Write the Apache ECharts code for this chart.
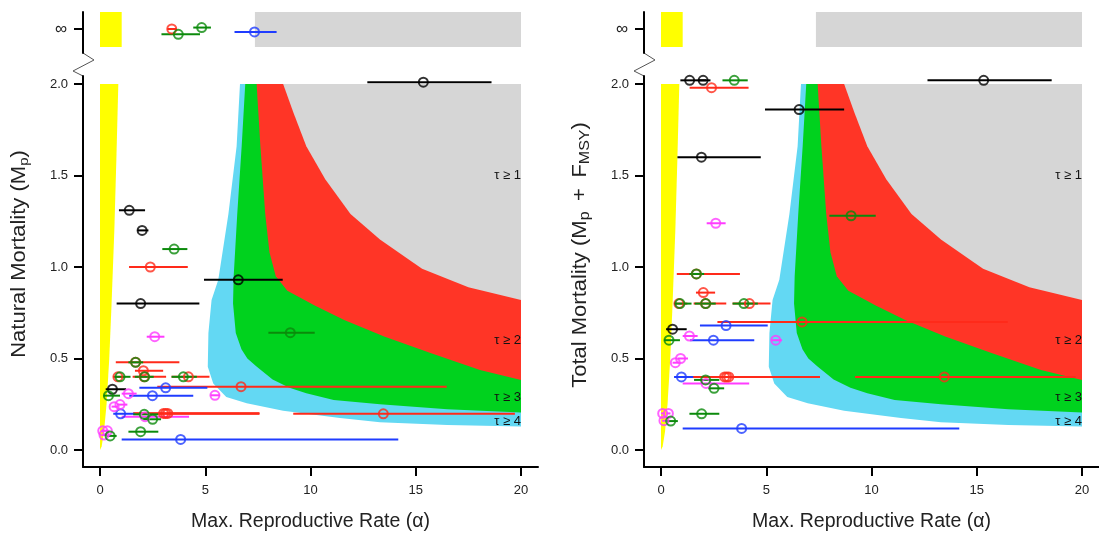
<!DOCTYPE html>
<html><head><meta charset="utf-8">
<script src="https://cdn.jsdelivr.net/npm/echarts@6/dist/echarts.min.js"></script>
<style>html,body{margin:0;padding:0;background:#fff}#c{width:1099px;height:533px}</style>
</head><body><div id="c"></div>
<script>
// ---------- tick labels ----------
const xTicks = [0, 5, 10, 15, 20];
const yTicks = [0, 0.5, 1, 1.5, 2];
const infLabel = '\u221e';
const tauLabels = ['\u03c4 \u2265 1', '\u03c4 \u2265 2', '\u03c4 \u2265 3', '\u03c4 \u2265 4'];
const tauM = [1.5, 0.6, 0.29, 0.155];

// ---------- shaded regions (alpha, M) boundary curves ----------
const regionCyan = [[6.65,2.0],[6.49,1.66],[6.1,1.29],[5.62,0.93],[5.3,0.82],[5.15,0.64],[5.12,0.455],[5.38,0.364],[6.0,0.29],[6.97,0.255],[8.7,0.215],[11.4,0.175],[13.3,0.152],[16.5,0.137],[20,0.128]];
const regionGreen = [[6.9,2.0],[6.73,1.66],[6.52,1.29],[6.35,0.95],[6.32,0.80],[6.45,0.64],[6.72,0.55],[7.0,0.50],[7.45,0.455],[8.2,0.385],[9.0,0.34],[9.8,0.31],[11.1,0.273],[13.3,0.25],[16.5,0.222],[20,0.205]];
const regionRed = [[7.44,2.0],[7.62,1.66],[7.85,1.29],[8.05,1.08],[8.35,0.95],[8.9,0.87],[10.2,0.79],[11.6,0.71],[13.5,0.62],[15.7,0.53],[18.05,0.437],[20,0.383]];
const regionGray = [[8.7,2.0],[9.2,1.84],[9.8,1.66],[10.7,1.48],[11.9,1.29],[13.3,1.15],[15.3,0.99],[17.5,0.89],[20,0.82]];
const regionYellow = [[0,2.0],[0.87,2.0],[0.78,1.6],[0.68,1.2],[0.55,0.8],[0.44,0.5],[0.31,0.25],[0.19,0.1],[0.08,0.02],[0,0]];
const infYellow = [0, 1.03];
const infGray = [7.36, 20];

// ---------- data: [alpha, M, lower, upper] ----------
const leftBlack = [[1.39,1.31,0.90,2.14],[2.00,1.20,1.77,2.30],[6.57,0.93,4.94,8.68],[1.93,0.80,0.79,4.72],[0.59,0.332,0.27,1.24],[15.36,2.01,12.7,18.6]];
const leftRed = [[2.39,1.00,1.38,4.17],[1.69,0.48,0.75,3.77],[2.06,0.433,1.66,3.00],[0.85,0.40,0.62,1.20],[2.10,0.40,1.55,3.14],[4.20,0.40,3.40,5.20],[6.70,0.346,2.72,16.47],[3.02,0.20,1.58,7.57],[3.12,0.20,1.58,7.57],[3.22,0.20,1.58,7.57],[13.46,0.198,9.18,19.71]];
const leftBlue = [[3.12,0.34,1.87,5.10],[2.49,0.297,1.39,4.43],[0.98,0.198,0.63,1.66],[3.83,0.058,1.03,14.17]];
const leftMagenta = [[2.60,0.619,2.22,3.06],[1.35,0.308,1.03,1.74],[5.46,0.299,5.25,5.70],[0.67,0.237,0.55,0.85],[0.95,0.248,0.80,1.30],[2.14,0.182,1.03,4.23],[0.13,0.105,0.05,0.25],[0.35,0.105,0.25,0.45],[0.19,0.082,0.10,0.30]];
const leftGreen = [[3.52,1.098,2.96,4.15],[9.04,0.641,8.0,10.2],[1.69,0.479,1.35,2.05],[0.95,0.40,0.70,1.45],[2.12,0.40,1.65,2.55],[3.96,0.40,3.40,4.60],[0.40,0.297,0.16,0.95],[2.10,0.195,1.58,2.77],[2.50,0.168,2.06,2.90],[1.93,0.10,1.35,2.77],[0.48,0.077,0.32,0.79]];
// infinite-mortality row (second value = small vertical offset within the row)
const leftInfRed = [[3.41,0.0,3.20,3.64]];
const leftInfGreen = [[3.72,-0.22,2.92,4.75],[4.83,0.06,4.43,5.27]];
const leftInfBlue = [[7.34,-0.12,6.39,8.39]];

const rightBlack = [[1.36,2.02,0.92,2.14],[2.00,2.02,1.77,2.35],[6.56,1.86,4.94,8.70],[1.92,1.60,0.78,4.74],[0.55,0.66,0.24,1.22],[15.33,2.02,12.66,18.56]];
const rightRed = [[2.40,1.98,1.36,4.16],[1.68,0.962,0.75,3.75],[2.01,0.86,1.66,2.57],[0.85,0.80,0.62,1.25],[2.12,0.80,1.55,3.10],[4.20,0.80,3.40,5.20],[6.70,0.70,2.68,16.47],[3.02,0.399,1.53,7.55],[3.12,0.399,1.53,7.55],[3.22,0.399,1.53,7.55],[13.46,0.399,9.22,19.70]];
const rightBlue = [[3.09,0.68,1.85,5.07],[2.49,0.60,1.38,4.43],[0.97,0.399,0.62,1.53],[3.83,0.118,1.03,14.17]];
const rightMagenta = [[2.60,1.239,2.17,3.07],[1.35,0.623,1.03,1.74],[5.45,0.60,5.25,5.75],[0.68,0.477,0.55,0.85],[0.93,0.50,0.80,1.28],[2.14,0.364,1.03,4.19],[0.08,0.20,0.0,0.20],[0.35,0.20,0.25,0.45],[0.14,0.16,0.05,0.25]];
const rightGreen = [[3.48,2.02,2.92,4.12],[9.03,1.28,8.0,10.2],[1.68,0.962,1.35,2.05],[0.90,0.80,0.62,1.45],[2.12,0.80,1.60,2.60],[3.94,0.80,3.40,4.60],[0.38,0.60,0.14,0.90],[2.12,0.383,1.57,2.77],[2.52,0.337,2.25,3.00],[1.93,0.198,1.35,2.77],[0.46,0.158,0.30,0.80]];

// ---------- styling ----------
const FONT = 'Liberation Sans, Arial, sans-serif';
const C = {black:'#000000', red:'#ff2a1a', green:'#0b8a0b', blue:'#1f3cff', magenta:'#ff3cff'};
const FILL = {gray:'#d6d6d6', red:'#ff3526', green:'#00d21e', cyan:'#63d8f3', yellow:'#ffff00'};

const PANEL_X = [83, 644];
const GRID_W = 455, TOP_T = 12, TOP_H = 41, MAIN_T = 76, MAIN_H = 391;
const XMIN = -0.808, XMAX = 20.808;
const YMIN = -0.0929, YMAX = 2.0437;
const IMIN = -1, IMAX = 0.7083;

const grids = [], xAxes = [], yAxes = [];
PANEL_X.forEach(function (lx) {
  grids.push({left: lx, top: TOP_T, width: GRID_W, height: TOP_H, containLabel: false, outerBoundsMode: 'none'});
  grids.push({left: lx, top: MAIN_T, width: GRID_W, height: MAIN_H, containLabel: false, outerBoundsMode: 'none'});
});
const xNames = ['Max. Reproductive Rate (\u03b1)', 'Max. Reproductive Rate (\u03b1)'];
for (let p = 0; p < 2; p++) {
  xAxes.push({gridIndex: 2*p, type: 'value', min: XMIN, max: XMAX, show: false});
  xAxes.push({gridIndex: 2*p+1, type: 'value', min: XMIN, max: XMAX,
    axisLine: {onZero: false, lineStyle: {color: '#000', width: 2}},
    axisTick: {customValues: xTicks, length: 9, lineStyle: {color: '#000', width: 2}},
    axisLabel: {customValues: xTicks, margin: 17, fontSize: 13, color: '#222', fontFamily: FONT},
    splitLine: {show: false},
    name: xNames[p], nameLocation: 'middle', nameGap: 45,
    nameTextStyle: {fontSize: 19.5, color: '#222', fontFamily: FONT}});
  yAxes.push({gridIndex: 2*p, type: 'value', min: IMIN, max: IMAX,
    axisLine: {onZero: false, lineStyle: {color: '#000', width: 2}},
    axisTick: {customValues: [0], length: 9, lineStyle: {color: '#000', width: 2}},
    axisLabel: {customValues: [0], formatter: function () { return infLabel; }, margin: 16, fontSize: 17, color: '#222', fontFamily: FONT},
    splitLine: {show: false}});
  yAxes.push({gridIndex: 2*p+1, type: 'value', min: YMIN, max: YMAX,
    axisLine: {onZero: false, lineStyle: {color: '#000', width: 2}},
    axisTick: {customValues: yTicks, length: 9, lineStyle: {color: '#000', width: 2}},
    axisLabel: {customValues: yTicks, formatter: function (v) { return v.toFixed(1); }, margin: 15, fontSize: 13, color: '#222', fontFamily: FONT},
    splitLine: {show: false}});
}

const series = [];
function regionSeries(idx, pts, color, closeCorner) {
  series.push({type: 'custom', xAxisIndex: idx, yAxisIndex: idx, silent: true, z: 1,
    data: [[0, 0]],
    renderItem: function (params, api) {
      const all = closeCorner ? pts.concat([[20, 2.0]]) : pts;
      return {type: 'polygon', shape: {points: all.map(function (q) { return api.coord(q); })}, style: {fill: color}};
    }});
}
function rectSeries(idx, range, color) {
  series.push({type: 'custom', xAxisIndex: idx, yAxisIndex: idx, silent: true, z: 1,
    data: [[0, 0]],
    renderItem: function (params, api) {
      const a = api.coord([range[0], IMAX]);
      const b = api.coord([range[1], -0.75]);
      return {type: 'rect', shape: {x: a[0], y: a[1], width: b[0]-a[0], height: b[1]-a[1]}, style: {fill: color}};
    }});
}
function pointSeries(idx, arr, color) {
  series.push({type: 'custom', xAxisIndex: idx, yAxisIndex: idx, silent: true, z: 2,
    data: arr, encode: {x: [0, 2, 3], y: 1},
    renderItem: function (params, api) {
      const y = api.value(1);
      const p1 = api.coord([api.value(2), y]);
      const p2 = api.coord([api.value(3), y]);
      return {type: 'line', shape: {x1: p1[0], y1: p1[1], x2: p2[0], y2: p2[1]}, style: {stroke: color, lineWidth: 2}};
    }});
  series.push({type: 'scatter', xAxisIndex: idx, yAxisIndex: idx, silent: true, z: 2,
    data: arr, encode: {x: 0, y: 1}, symbol: 'circle', symbolSize: 9,
    itemStyle: {color: 'rgba(0,0,0,0)', borderColor: color, borderWidth: 2}});
}
function tauSeries(idx) {
  series.push({type: 'custom', xAxisIndex: idx, yAxisIndex: idx, silent: true, z: 3,
    data: tauM.map(function (m, i) { return [20, m, i]; }),
    renderItem: function (params, api) {
      const p = api.coord([api.value(0), api.value(1)]);
      return {type: 'text', x: p[0], y: p[1], style: {text: tauLabels[api.value(2)], fill: '#111', fontSize: 13, fontFamily: FONT, align: 'right', verticalAlign: 'middle'}};
    }});
}

[1, 3].forEach(function (idx) {
  regionSeries(idx, regionCyan, FILL.cyan, true);
  regionSeries(idx, regionGreen, FILL.green, true);
  regionSeries(idx, regionRed, FILL.red, true);
  regionSeries(idx, regionGray, FILL.gray, true);
  regionSeries(idx, regionYellow, FILL.yellow, false);
  tauSeries(idx);
});
[0, 2].forEach(function (idx) {
  rectSeries(idx, infYellow, FILL.yellow);
  rectSeries(idx, infGray, FILL.gray);
});

pointSeries(0, leftInfRed, C.red);
pointSeries(0, leftInfBlue, C.blue);
pointSeries(0, leftInfGreen, C.green);

pointSeries(1, leftRed, C.red);
pointSeries(1, leftBlack, C.black);
pointSeries(1, leftBlue, C.blue);
pointSeries(1, leftMagenta, C.magenta);
pointSeries(1, leftGreen, C.green);

pointSeries(3, rightRed, C.red);
pointSeries(3, rightBlack, C.black);
pointSeries(3, rightBlue, C.blue);
pointSeries(3, rightMagenta, C.magenta);
pointSeries(3, rightGreen, C.green);

// axis break zigzags and y titles
const graphic = [];
PANEL_X.forEach(function (lx) {
  graphic.push({type: 'polyline', shape: {points: [[lx, TOP_T+TOP_H], [lx+11, TOP_T+TOP_H+7], [lx-10, TOP_T+TOP_H+18], [lx, MAIN_T]]},
    style: {stroke: '#555', lineWidth: 1, fill: null}, silent: true});
});
const subStyle = {fontSize: 15, fontFamily: FONT, fill: '#222', lineHeight: 14, verticalAlign: 'bottom'};
graphic.push({type: 'text', x: 20, y: 254, rotation: Math.PI/2, scaleY: 0.88,
  style: {text: 'Natural Mortality (M{sub|p})', fontSize: 22, fontFamily: FONT, fill: '#222', align: 'center', verticalAlign: 'middle', lineHeight: 26,
    rich: {sub: subStyle}}});
graphic.push({type: 'text', x: 581, y: 255, rotation: Math.PI/2, scaleY: 0.88,
  style: {text: 'Total Mortality (M{sub|p}\u2009 + \u2009F{sub|MSY})', fontSize: 22, fontFamily: FONT, fill: '#222', align: 'center', verticalAlign: 'middle', lineHeight: 26,
    rich: {sub: {fontSize: 16, fontFamily: FONT, fill: '#222', lineHeight: 14, verticalAlign: 'bottom'}}}});

const chart = echarts.init(document.getElementById('c'), null, {renderer: 'canvas'});
chart.setOption({animation: false, backgroundColor: '#fff', grid: grids, xAxis: xAxes, yAxis: yAxes, series: series, graphic: graphic});
</script></body></html>
